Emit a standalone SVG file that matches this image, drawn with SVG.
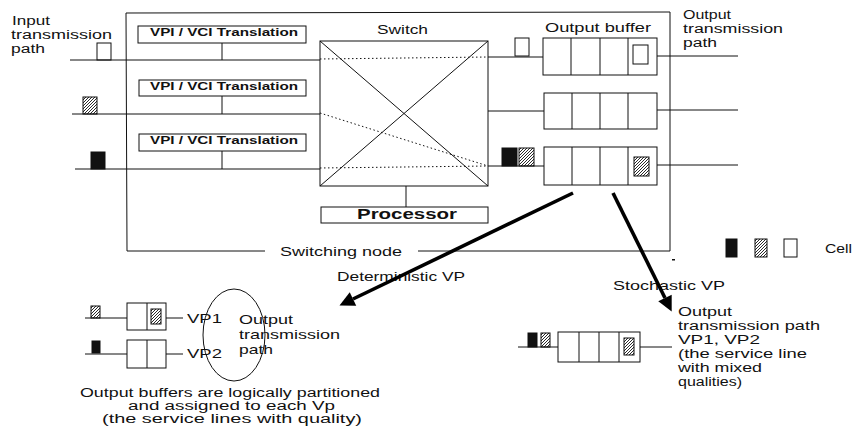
<svg xmlns="http://www.w3.org/2000/svg" width="857" height="429" viewBox="0 0 857 429">
<defs>
<pattern id="hatch" patternUnits="userSpaceOnUse" width="3" height="3">
<path d="M-1,1 L1,-1 M0,3 L3,0 M2,4 L4,2" stroke="#111" stroke-width="0.9"/>
</pattern>
<marker id="ah" viewBox="0 0 10 10" refX="0" refY="5" markerUnits="userSpaceOnUse" markerWidth="18" markerHeight="15" orient="auto">
<path d="M0,0 L10,5 L0,10 z" fill="#000"/>
</marker>
</defs>
<style>
.ln{stroke:#111;stroke-width:1;fill:none}
.box{stroke:#111;stroke-width:1;fill:#fff}
.dot{stroke:#111;stroke-width:1;fill:none;stroke-dasharray:1.5 2.5}
.wc{stroke:#111;stroke-width:1;fill:#fff}
.hc{stroke:#111;stroke-width:1;fill:url(#hatch)}
.bc{stroke:#111;stroke-width:1;fill:#111}
.big{stroke:#000;stroke-width:3.6;fill:none}
text{font-family:"Liberation Sans",Arial,sans-serif;font-size:13px;fill:#111}
.vpi{font-weight:bold;font-size:11.5px}
.proc{font-weight:bold;font-size:15px}
.sm{font-size:12px}
.st{font-size:12.5px}
</style>
<rect width="857" height="429" fill="#fff"/>

<g id="switching-node">
<path class="ln" d="M265,251 L127,251 L126,13 L670,12 L670,251 L418,251"/>
<text x="280" y="256" textLength="122" lengthAdjust="spacingAndGlyphs">Switching node</text>
<rect x="672" y="259" width="3" height="1.5" fill="#111"/>
</g>

<g id="input-label">
<text class="st" x="12" y="25" textLength="38" lengthAdjust="spacingAndGlyphs">Input</text>
<text class="st" x="11" y="39" textLength="101" lengthAdjust="spacingAndGlyphs">transmission</text>
<text class="st" x="11" y="53" textLength="34" lengthAdjust="spacingAndGlyphs">path</text>
</g>

<g id="output-label">
<text class="st" x="683" y="19" textLength="48" lengthAdjust="spacingAndGlyphs">Output</text>
<text class="st" x="683" y="33" textLength="100" lengthAdjust="spacingAndGlyphs">transmission</text>
<text class="st" x="683" y="47" textLength="34" lengthAdjust="spacingAndGlyphs">path</text>
</g>

<g id="vpi1">
<rect class="box" x="138" y="26" width="168" height="17"/>
<text class="vpi" x="150" y="36" textLength="148" lengthAdjust="spacingAndGlyphs">VPI / VCI Translation</text>
</g>
<g id="vpi2">
<rect class="box" x="139" y="80" width="167" height="16"/>
<text class="vpi" x="150" y="90" textLength="148" lengthAdjust="spacingAndGlyphs">VPI / VCI Translation</text>
</g>
<g id="vpi3">
<rect class="box" x="139" y="134" width="167" height="17"/>
<text class="vpi" x="150" y="144" textLength="148" lengthAdjust="spacingAndGlyphs">VPI / VCI Translation</text>
</g>

<g id="switch">
<text x="377" y="34" textLength="51" lengthAdjust="spacingAndGlyphs">Switch</text>
<rect class="box" x="320" y="41" width="168" height="145"/>
<path class="ln" d="M320,41 L488,186 M488,41 L320,186"/>
</g>

<g id="processor">
<rect class="box" x="321" y="207" width="167" height="16"/>
<text class="proc" x="357" y="219" textLength="100" lengthAdjust="spacingAndGlyphs">Processor</text>
</g>

<g id="output-buffer-label">
<text x="545" y="32" textLength="106" lengthAdjust="spacingAndGlyphs">Output buffer</text>
</g>

<g id="buffer1">
<rect class="box" x="543" y="38" width="114" height="37"/>
<path class="ln" d="M571,38 V75 M600,38 V75 M628,38 V75"/>
<rect class="wc" x="633" y="45" width="15" height="19"/>
</g>
<g id="buffer2">
<rect class="box" x="544" y="93" width="113" height="36"/>
<path class="ln" d="M572,93 V129 M600,93 V129 M628,93 V129"/>
</g>
<g id="buffer3">
<rect class="box" x="544" y="147" width="113" height="38"/>
<path class="ln" d="M572,147 V185 M600,147 V185 M628,147 V185"/>
<rect class="hc" x="634" y="157" width="15" height="19"/>
</g>

<g id="cells">
<rect class="wc" x="97" y="43" width="14" height="17"/>
<rect class="hc" x="83" y="97" width="14" height="17"/>
<rect class="bc" x="91" y="152" width="14" height="17"/>
<rect class="wc" x="515" y="38" width="14" height="18"/>
<rect class="bc" x="502" y="148" width="15" height="18"/>
<rect class="hc" x="519" y="148" width="15" height="18"/>
</g>

<g id="legend">
<rect class="bc" x="726" y="239" width="11" height="18"/>
<rect class="hc" x="755" y="239" width="12" height="18"/>
<rect class="wc" x="784" y="239" width="13" height="18"/>
<text x="825" y="253" textLength="27" lengthAdjust="spacingAndGlyphs">Cell</text>
</g>

<g id="deterministic-vp">
<text x="337" y="281" textLength="128" lengthAdjust="spacingAndGlyphs">Deterministic VP</text>
<rect class="hc" x="91" y="306" width="9" height="12"/>
<rect class="bc" x="92" y="341" width="8" height="12"/>
<rect class="box" x="127" y="303" width="39" height="27"/>
<path class="ln" d="M147,303 V330"/>
<rect class="hc" x="151" y="309" width="10" height="15"/>
<rect class="box" x="127" y="340" width="39" height="28"/>
<path class="ln" d="M147,340 V368"/>
<path class="ln" d="M85,318 H127 M166,318 H183 M85,354 H127 M166,354 H183"/>
<text x="187" y="323" font-size="14" textLength="35" lengthAdjust="spacingAndGlyphs">VP1</text>
<text x="187" y="358" font-size="14" textLength="35" lengthAdjust="spacingAndGlyphs">VP2</text>
<ellipse class="ln" cx="234" cy="335" rx="31" ry="46"/>
<text x="239" y="324" textLength="54" lengthAdjust="spacingAndGlyphs">Output</text>
<text x="239" y="339" textLength="101" lengthAdjust="spacingAndGlyphs">transmission</text>
<text x="239" y="354" textLength="34" lengthAdjust="spacingAndGlyphs">path</text>
<text class="sm" x="80" y="397" textLength="300" lengthAdjust="spacingAndGlyphs">Output buffers are logically partitioned</text>
<text class="sm" x="128" y="410" textLength="207" lengthAdjust="spacingAndGlyphs">and assigned to each Vp</text>
<text class="sm" x="102" y="423" textLength="260" lengthAdjust="spacingAndGlyphs">(the service lines with quality)</text>
</g>

<g id="stochastic-vp">
<text x="613" y="290" textLength="112" lengthAdjust="spacingAndGlyphs">Stochastic VP</text>
<rect class="bc" x="528" y="333" width="9" height="14"/>
<rect class="hc" x="541" y="333" width="9" height="14"/>
<rect class="box" x="558" y="332" width="82" height="30"/>
<path class="ln" d="M579,332 V362 M599,332 V362 M619,332 V362"/>
<rect class="hc" x="624" y="338" width="10" height="17"/>
<path class="ln" d="M518,347 H558 M640,347 H672"/>
<text class="st" x="678" y="316" textLength="54" lengthAdjust="spacingAndGlyphs">Output</text>
<text class="st" x="678" y="330" textLength="142" lengthAdjust="spacingAndGlyphs">transmission path</text>
<text class="st" x="678" y="344" textLength="82" lengthAdjust="spacingAndGlyphs">VP1, VP2</text>
<text class="st" x="678" y="358" textLength="129" lengthAdjust="spacingAndGlyphs">(the service line</text>
<text class="st" x="678" y="372" textLength="84" lengthAdjust="spacingAndGlyphs">with mixed</text>
<text class="st" x="678" y="386" textLength="64" lengthAdjust="spacingAndGlyphs">qualities)</text>
</g>

<g id="connectors">
<path class="ln" d="M70,60 H320 M72,114 H320 M75,169 H320"/>
<path class="ln" d="M222,43 V60 M222,96 V114 M222,151 V169"/>
<path class="dot" d="M320,59 L488,57 M320,113 L488,166 M320,168 L488,166"/>
<path class="ln" d="M488,57 H543 M488,111 H544 M488,166 H544"/>
<path class="ln" d="M657,56 H738 M657,110 H738 M657,165 H738"/>
<path class="ln" d="M406,186 V207"/>
<path class="big" d="M573,193 L353,299" marker-end="url(#ah)"/>
<path class="big" d="M613,193 L665,298" marker-end="url(#ah)"/>
</g>
</svg>
